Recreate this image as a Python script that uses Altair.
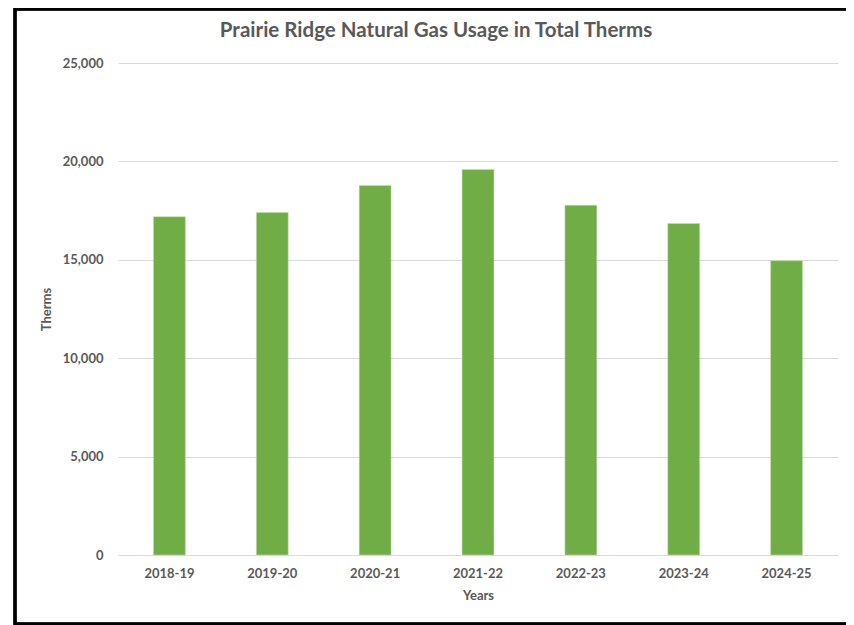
import altair as alt
import pandas as pd

years = ["2018-19", "2019-20", "2020-21", "2021-22", "2022-23", "2023-24", "2024-25"]
therms = [17190, 17400, 18770, 19590, 17770, 16850, 14950]
y_ticks = [0, 5000, 10000, 15000, 20000, 25000]
title_text = "Prairie Ridge Natural Gas Usage in Total Therms"

df = pd.DataFrame({"Years": years, "Therms": therms})

FONT = "Lato"
GREY = "#595959"

bars = alt.Chart(df).mark_bar(color="#70ad47", stroke="#c5e0b4", strokeWidth=0.5).encode(
    x=alt.X(
        "Years:N",
        sort=years,
        scale=alt.Scale(paddingInner=0.69, paddingOuter=0.345),
        axis=alt.Axis(
            title="Years",
            labelAngle=0,
            labelPadding=12,
            titlePadding=9,
            domain=False,
            ticks=False,
            grid=False,
        ),
    ),
    y=alt.Y(
        "Therms:Q",
        scale=alt.Scale(domain=[0, 25000], nice=False),
        axis=alt.Axis(
            title="Therms",
            values=y_ticks,
            format=",d",
            labelPadding=15,
            titlePadding=9,
            domain=False,
            ticks=False,
            grid=True,
            gridColor="#d9d9d9",
            gridWidth=1,
        ),
    ),
)

border = alt.Chart(df).mark_rect(
    fill=None, fillOpacity=0, stroke="black", strokeWidth=2.5
).encode(
    x=alt.value(-103),
    x2=alt.value(740),
    y=alt.value(-54),
    y2=alt.value(561),
)

title = alt.Chart(pd.DataFrame({"t": [title_text]})).mark_text(
    font=FONT,
    fontSize=20.5,
    fontWeight="bold",
    color=GREY,
    align="center",
    baseline="middle",
).encode(
    text="t:N",
    x=alt.value(318),
    y=alt.value(-32),
)

chart = (
    alt.layer(border, bars, title)
    .properties(
        width=720,
        height=492,
        background="white",
        autosize=alt.AutoSizeParams(type="none"),
        padding={"left": 110, "top": 55, "right": 8, "bottom": 70},
    )
    .configure_view(stroke=None)
    .configure_axis(
        labelFont=FONT,
        labelFontSize=13,
        labelFontWeight="bold",
        labelColor=GREY,
        titleFont=FONT,
        titleFontSize=13,
        titleFontWeight="bold",
        titleColor=GREY,
    )
)

chart.save("out.html", embed_options={"renderer": "svg", "actions": False})
